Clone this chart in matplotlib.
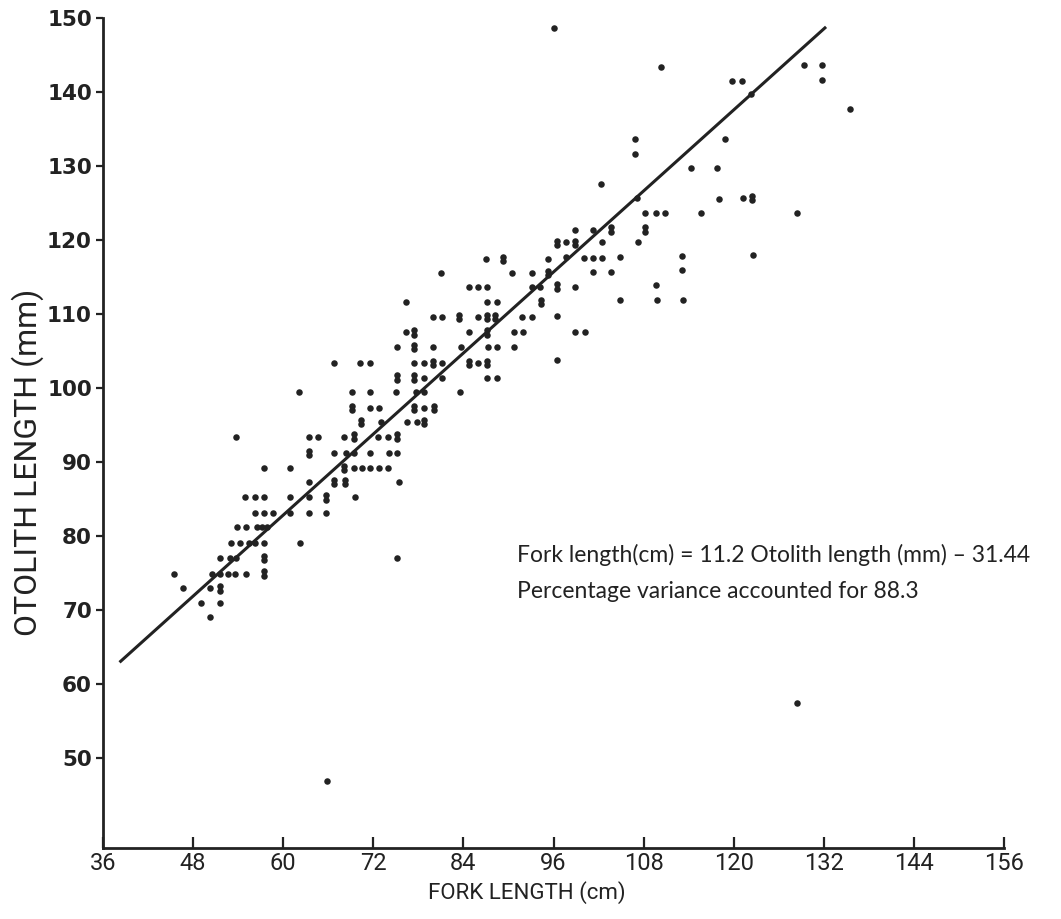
import matplotlib
matplotlib.use("Agg")
import matplotlib.pyplot as plt

# ---- data ----
fork_length = [
    # left cluster
    53.7, 63.4, 64.6, 63.4, 66.8, 57.5, 60.9, 63.4, 66.8,
    54.9, 56.3, 57.5, 60.9, 63.4, 65.7,
    56.3, 57.5, 58.7, 60.9, 63.4, 65.7,
    53.9, 55.1, 56.5, 57.2, 57.8,
    53.0, 54.2, 55.4, 56.3, 57.5, 62.3,
    51.6, 52.9, 53.7, 57.5,
    45.5, 50.5, 51.6, 52.7, 53.6, 55.1, 57.5,
    46.7, 50.2, 51.6,
    49.1, 51.6,
    50.2,
    # middle-low cluster
    76.3, 77.4,
    75.2, 77.4, 80.0, 83.7,
    66.7, 70.2, 71.5, 77.4, 78.8, 80.0, 81.2,
    75.2, 77.4, 78.8, 81.1,
    62.1, 69.1, 71.6, 75.0, 77.7, 78.8, 83.5,
    69.2, 71.6, 72.8, 77.4, 78.8, 80.1,
    70.3, 73.0, 76.5, 77.8, 78.8,
    68.1, 69.4, 72.6, 73.9, 75.1,
    68.3, 69.4, 71.6, 74.1, 75.2,
    68.1, 69.4, 70.5, 71.6, 72.8, 74.0,
    68.2, 75.4,
    69.6,
    75.2,
    # middle-high cluster
    87.0, 89.3, 95.3,
    81.0, 90.5, 93.1, 95.3,
    84.7, 85.9, 87.1, 93.1, 94.2,
    76.3, 87.1, 88.5, 94.3,
    79.9, 81.2, 83.4, 85.9, 87.1, 88.2, 91.8, 93.2,
    84.7, 87.1, 90.7, 91.9,
    87.3, 88.5, 90.8,
    84.7, 85.9, 87.1,
    87.1, 88.5,
    96.4,
    # upper right
    96.1, 110.3, 129.4, 131.7, 131.7, 119.8, 121.1, 122.3, 135.5,
    106.9, 118.9, 106.9, 114.3, 117.8, 102.3, 107.1,
    118.0, 121.2, 122.5,
    108.2, 109.6, 110.8, 115.6, 128.4,
    98.9, 101.3, 103.7, 108.2,
    96.4, 97.7, 98.9, 102.4, 107.2,
    97.7, 100.1, 101.3, 102.4, 104.8, 113.1, 122.6,
    101.3, 103.7, 113.1,
    96.4, 98.9, 109.6,
    104.9, 109.8, 113.2,
    96.5,
    98.9, 100.2,
    # outliers
    128.4, 65.9,
]

otolith_length = [
    93.4, 93.4, 93.4, 91.2, 91.2, 89.2, 89.2, 87.3, 87.3,
    85.2, 85.2, 85.2, 85.2, 85.2, 85.2,
    83.1, 83.1, 83.1, 83.1, 83.1, 83.1,
    81.2, 81.2, 81.2, 81.2, 81.2,
    79.0, 79.0, 79.0, 79.0, 79.0, 79.0,
    77.0, 77.0, 77.0, 77.0,
    74.9, 74.9, 74.9, 74.9, 74.9, 74.9, 74.9,
    72.9, 72.9, 72.9,
    70.9, 70.9,
    69.0,
    107.5, 107.5,
    105.5, 105.5, 105.5, 105.5,
    103.4, 103.4, 103.4, 103.4, 103.4, 103.4, 103.4,
    101.4, 101.4, 101.4, 101.4,
    99.4, 99.4, 99.4, 99.4, 99.4, 99.4, 99.4,
    97.3, 97.3, 97.3, 97.3, 97.3, 97.3,
    95.4, 95.4, 95.4, 95.4, 95.4,
    93.4, 93.4, 93.4, 93.4, 93.4,
    91.2, 91.2, 91.2, 91.2, 91.2,
    89.2, 89.2, 89.2, 89.2, 89.2, 89.2,
    87.3, 87.3,
    85.2,
    77.0,
    117.4, 117.4, 117.4,
    115.5, 115.5, 115.5, 115.5,
    113.6, 113.6, 113.6, 113.6, 113.6,
    111.6, 111.6, 111.6, 111.6,
    109.6, 109.6, 109.6, 109.6, 109.6, 109.6, 109.6, 109.6,
    107.5, 107.5, 107.5, 107.5,
    105.5, 105.5, 105.5,
    103.4, 103.4, 103.4,
    101.4, 101.4,
    103.8,
    148.6, 143.4, 143.6, 143.6, 141.6, 141.5, 141.5, 139.7, 137.7,
    133.6, 133.7, 131.6, 129.7, 129.7, 127.6, 125.7,
    125.5, 125.6, 125.7,
    123.6, 123.6, 123.6, 123.7, 123.7,
    121.4, 121.4, 121.4, 121.4,
    119.6, 119.7, 119.6, 119.7, 119.7,
    117.7, 117.6, 117.6, 117.6, 117.7, 117.8, 117.9,
    115.6, 115.6, 116.0,
    113.7, 113.7, 113.9,
    111.9, 111.9, 111.9,
    109.7,
    107.6, 107.6,
    57.4, 46.9,
]

# number of fish at each plotted position (stacked dots in the original)
fish_count = [
    1, 1, 1, 2, 1, 1, 1, 1, 2,
    1, 1, 1, 1, 1, 2,
    1, 1, 1, 1, 1, 1,
    1, 1, 1, 1, 1,
    1, 1, 1, 1, 1, 1,
    1, 1, 1, 2,
    1, 1, 1, 1, 1, 1, 2,
    1, 1, 2,
    1, 1,
    1,
    1, 2,
    1, 2, 1, 1,
    1, 1, 1, 1, 1, 2, 1,
    2, 2, 1, 1,
    1, 1, 1, 1, 1, 1, 1,
    2, 1, 1, 2, 1, 2,
    2, 1, 1, 1, 2,
    1, 2, 1, 1, 2,
    1, 1, 1, 1, 1,
    2, 1, 1, 1, 1, 1,
    2, 1,
    1,
    1,
    1, 2, 1,
    1, 1, 1, 2,
    1, 1, 1, 1, 1,
    1, 1, 1, 2,
    1, 1, 2, 1, 2, 2, 1, 1,
    1, 2, 1, 1,
    1, 1, 1,
    2, 1, 2,
    1, 1,
    1,
    1, 1, 1, 1, 1, 1, 1, 1, 1,
    1, 1, 1, 1, 1, 1, 1,
    1, 1, 2,
    1, 1, 1, 1, 1,
    1, 1, 2, 2,
    2, 1, 2, 1, 1,
    1, 1, 1, 1, 1, 1, 1,
    1, 1, 1,
    2, 1, 1,
    1, 1, 1,
    1,
    1, 1,
    1, 1,
]

line_x = [38.2, 132.3]
line_y = [62.9, 148.8]

x_ticks = [36, 48, 60, 72, 84, 96, 108, 120, 132, 144, 156]
y_ticks = [50, 60, 70, 80, 90, 100, 110, 120, 130, 140, 150]

x_label = "FORK LENGTH (cm)"
y_label = "OTOLITH LENGTH (mm)"
equation_text = "Fork length(cm) = 11.2 Otolith length (mm) \u2013 31.44"
variance_text = "Percentage variance accounted for 88.3"

# ---- figure ----
W, H = 1061, 919
ax_left, ax_right, ax_top, ax_bottom = 103, 1004, 18, 848
fig = plt.figure(figsize=(W / 100, H / 100), dpi=100)
fig.patch.set_facecolor("white")
ax = fig.add_axes([ax_left / W, 1 - ax_bottom / H,
                   (ax_right - ax_left) / W, (ax_bottom - ax_top) / H])
ax.set_xlim(36, 156)
ax.set_ylim(37.8, 150)

ink = "#222222"
sx, sy, dx, dy = [], [], [], []
for xv, yv, c in zip(fork_length, otolith_length, fish_count):
    if c == 1:
        sx.append(xv); sy.append(yv)
    else:
        dx.extend([xv, xv]); dy.extend([yv - 0.3, yv + 0.3])
ax.scatter(sx, sy, s=22, color=ink, linewidths=0, zorder=3)
ax.scatter(dx, dy, s=22, color=ink, linewidths=0, zorder=3)

ax.plot(line_x, line_y, color=ink, lw=2.2, solid_capstyle="butt", zorder=2)

for s in ("top", "right"):
    ax.spines[s].set_visible(False)
for s in ("left", "bottom"):
    ax.spines[s].set_linewidth(2.0)
    ax.spines[s].set_color(ink)

ax.set_xticks(x_ticks)
ax.set_yticks(y_ticks)
ax.tick_params(axis="x", direction="in", length=8, width=1.6, color=ink,
               pad=3, labelcolor=ink)
ax.tick_params(axis="y", direction="out", length=5, width=1.6, color=ink,
               pad=3, labelcolor=ink)
for lab in ax.get_xticklabels():
    lab.set_fontfamily("Roboto")
    lab.set_fontsize(17)
for lab in ax.get_yticklabels():
    lab.set_fontfamily("DejaVu Sans")
    lab.set_fontweight("bold")
    lab.set_fontsize(15.5)

ax.set_xlabel(x_label, fontsize=16, color=ink, fontfamily="Roboto", va="center")
ax.xaxis.set_label_coords((527 - ax_left) / (ax_right - ax_left),
                          (ax_bottom - 893) / (ax_bottom - ax_top))
ax.set_ylabel(y_label, fontsize=23, color=ink, fontfamily="Roboto",
              va="center", ha="center")
ax.yaxis.set_label_coords((28 - ax_left) / (ax_right - ax_left),
                          (ax_bottom - 462) / (ax_bottom - ax_top))

ax.text((517 - ax_left) / (ax_right - ax_left), (ax_bottom - 555) / (ax_bottom - ax_top),
        equation_text, transform=ax.transAxes, fontsize=16.5,
        color=ink, family="Lato", ha="left", va="center")
ax.text((517 - ax_left) / (ax_right - ax_left), (ax_bottom - 591) / (ax_bottom - ax_top),
        variance_text, transform=ax.transAxes, fontsize=16.5,
        color=ink, family="Lato", ha="left", va="center")

fig.savefig("out.png", dpi=100, facecolor="white")
